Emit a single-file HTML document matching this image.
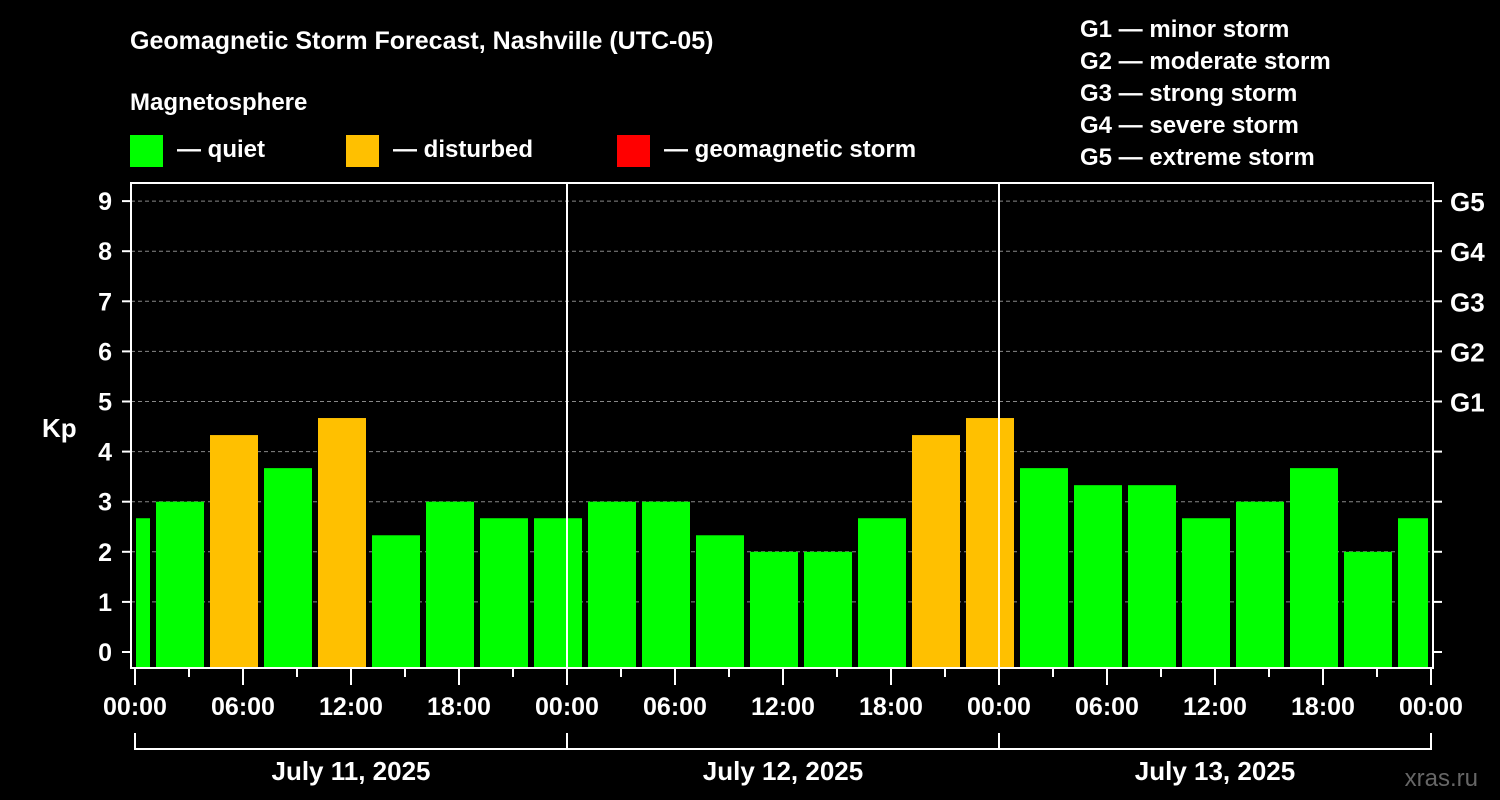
<!DOCTYPE html>
<html><head><meta charset="utf-8"><style>
html,body{margin:0;padding:0;background:#000;width:1500px;height:800px;overflow:hidden}
svg{display:block;font-family:"Liberation Sans",Arial,sans-serif;font-weight:bold}
</style></head><body>
<svg id="chart" width="1500" height="800" viewBox="0 0 1500 800">
<rect width="1500" height="800" fill="#000"/>
<text x="130" y="49" fill="#fff" font-size="25">Geomagnetic Storm Forecast, Nashville (UTC-05)</text>
<text x="130" y="110" fill="#fff" font-size="24">Magnetosphere</text>
<g><rect x="130" y="135" width="33" height="32" fill="#00ff00"/><text x="177" y="157" fill="#fff" font-size="24">— quiet</text></g>
<g><rect x="346" y="135" width="33" height="32" fill="#ffc000"/><text x="393" y="157" fill="#fff" font-size="24">— disturbed</text></g>
<g><rect x="617" y="135" width="33" height="32" fill="#ff0000"/><text x="664" y="157" fill="#fff" font-size="24">— geomagnetic storm</text></g>
<g fill="#fff" font-size="24">
<text x="1080" y="37">G1 — minor storm</text>
<text x="1080" y="69">G2 — moderate storm</text>
<text x="1080" y="101">G3 — strong storm</text>
<text x="1080" y="133">G4 — severe storm</text>
<text x="1080" y="165">G5 — extreme storm</text>
</g>
<text x="42" y="437" fill="#fff" font-size="26">Kp</text>
<text x="1478" y="786" fill="#666" font-size="24" text-anchor="end" font-weight="normal">xras.ru</text>
<g id="plot"></g>
</svg>
<script>
const kpValues=[2.67,3,4.33,3.67,4.67,2.33,3,2.67,2.67,3,3,2.33,2,2,2.67,4.33,4.67,3.67,3.33,3.33,2.67,3,3.67,2,2.67];
const barCenterHours=[-0.5,2.5,5.5,8.5,11.5,14.5,17.5,20.5,23.5,26.5,29.5,32.5,35.5,38.5,41.5,44.5,47.5,50.5,53.5,56.5,59.5,62.5,65.5,68.5,71.5];
const yTicks=[0,1,2,3,4,5,6,7,8,9];
const gLabels=["G1","G2","G3","G4","G5"];
const gLevels=[5,6,7,8,9];
const timeLabels=["00:00","06:00","12:00","18:00","00:00","06:00","12:00","18:00","00:00","06:00","12:00","18:00","00:00"];
const dayLabels=["July 11, 2025","July 12, 2025","July 13, 2025"];
const NS="http://www.w3.org/2000/svg";
const X0=135,PXH=18,Y0=652,PXK=50.1,TOP=183,BOT=668,L=131,R=1433;
const xs=h=>X0+h*PXH, ys=v=>Y0-v*PXK;
const g=document.getElementById('plot');
function mk(t,a,p){const e=document.createElementNS(NS,t);for(const k in a)e.setAttribute(k,a[k]);(p||g).appendChild(e);return e;}
// grid
yTicks.forEach(v=>{if(v>0){const l=mk('line',{x1:L,x2:R,y1:ys(v),y2:ys(v),stroke:'#888','stroke-dasharray':'4,3','stroke-width':1});

}});
// bars
kpValues.forEach((v,i)=>{let a=Math.max(xs(barCenterHours[i])-24,X0+1),b=Math.min(xs(barCenterHours[i])+24,R-5);
const r=mk('rect',{x:a,y:ys(v),width:b-a,height:BOT-1-ys(v),fill:v>=4?'#ffc000':(v>=5?'#ff0000':'#00ff00')});

});
// day separators
[24,48].forEach(h=>{const l=mk('line',{x1:xs(h),x2:xs(h),y1:TOP,y2:BOT,stroke:'#fff','stroke-width':2});

});
// frame
const f=mk('rect',{x:L,y:TOP,width:R-L,height:BOT-TOP,fill:'none',stroke:'#fff','stroke-width':2});


// y ticks
yTicks.forEach(v=>{mk('line',{x1:122,x2:L,y1:ys(v),y2:ys(v),stroke:'#fff','stroke-width':2});
mk('line',{x1:R,x2:1442,y1:ys(v),y2:ys(v),stroke:'#fff','stroke-width':2});
const t=mk('text',{x:112,y:ys(v)+9,fill:'#fff','font-size':25,'text-anchor':'end'});t.textContent=v;

});
gLabels.forEach((s,i)=>{const t=mk('text',{x:1450,y:ys(gLevels[i])+10,fill:'#fff','font-size':26});t.textContent=s;

});
// x ticks
for(let h=0;h<=72;h+=3){const major=h%6===0;mk('line',{x1:xs(h),x2:xs(h),y1:BOT,y2:major?685:677,stroke:'#fff','stroke-width':2});}
timeLabels.forEach((s,i)=>{const t=mk('text',{x:xs(i*6),y:715,fill:'#fff','font-size':25,'text-anchor':'middle'});t.textContent=s;

});
// day bracket
mk('line',{x1:xs(0),x2:xs(72),y1:749,y2:749,stroke:'#fff','stroke-width':2});
[0,24,48,72].forEach(h=>mk('line',{x1:xs(h),x2:xs(h),y1:733,y2:750,stroke:'#fff','stroke-width':2}));
dayLabels.forEach((s,i)=>{const t=mk('text',{x:xs(i*24+12),y:780,fill:'#fff','font-size':26,'text-anchor':'middle'});t.textContent=s;

});
</script>
</body></html>
